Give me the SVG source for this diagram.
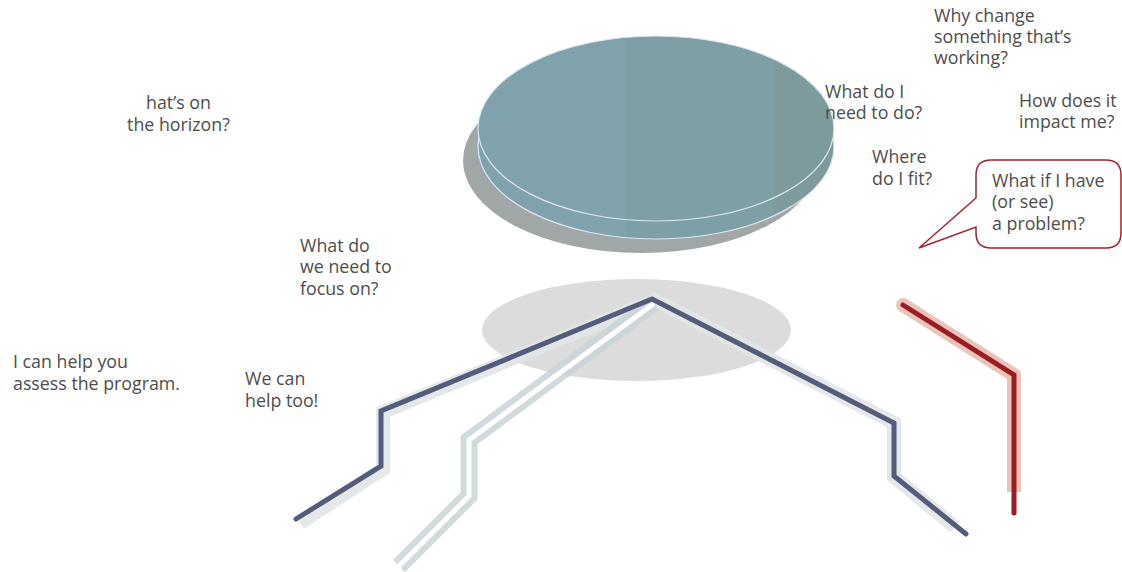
<svg xmlns="http://www.w3.org/2000/svg" width="1122" height="572" viewBox="0 0 1122 572">
<defs>
<linearGradient id="discFill" x1="477" y1="0" x2="835" y2="0" gradientUnits="userSpaceOnUse">
<stop offset="0" stop-color="#80a2ac"/>
<stop offset="0.415" stop-color="#80a2ac"/>
<stop offset="0.415" stop-color="#7f9fa6"/>
<stop offset="0.83" stop-color="#7f9fa6"/>
<stop offset="0.83" stop-color="#7d9b9d"/>
<stop offset="1" stop-color="#7d9b9d"/>
</linearGradient>
<style>
.t{font-family:"Open Sans","Noto Sans","Liberation Sans",sans-serif;font-size:17.8px;fill:#4d4d4d}
.disc{fill:url(#discFill);stroke:#dbe6f2;stroke-width:1.2}
.halo{fill:none;stroke:#e1e5e7;stroke-width:14;stroke-linejoin:miter;opacity:0.9}
.dark{fill:none;stroke:#555b7a;stroke-width:5;stroke-linecap:round;stroke-linejoin:miter}
</style>
</defs>
<rect width="1122" height="572" fill="#ffffff"/>

<g id="disc">
<ellipse cx="641" cy="160.5" rx="178" ry="92.5" fill="#a1a6a6"/>
<ellipse class="disc" cx="656" cy="146.5" rx="178" ry="92.5"/>
<ellipse class="disc" cx="656" cy="128.5" rx="178" ry="92.5"/>
</g>

<g id="ground">
<ellipse cx="636.5" cy="330" rx="154.5" ry="51" fill="#dcdcdc"/>
</g>

<g id="connectors">
<path class="halo" d="M300 523 L383 469 L383 412 L655 300 L894 423 L894 477 L955 527"/>
<path d="M399 566 L469 496 L469 440 L654 303" fill="none" stroke="#c9d3d7" stroke-width="17" stroke-linejoin="miter" opacity="0.85"/>
<path d="M399 566 L469 496 L469 440 L652 305" fill="none" stroke="#ffffff" stroke-width="5" stroke-linecap="round" stroke-linejoin="miter"/>
<path class="dark" d="M296 519 L381 466 L381 411 L652 299 L894 423 L894 476 L966 534"/>
<path d="M903 305 L1014 375 L1014 492" fill="none" stroke="#e9c5b9" stroke-width="14" stroke-linecap="butt" stroke-linejoin="round"/>
<circle cx="903" cy="305" r="7" fill="#e9c5b9"/>
<path d="M903 305 L1014 375 L1014 513" fill="none" stroke="#9c1c24" stroke-width="5" stroke-linecap="round" stroke-linejoin="miter"/>
</g>

<g id="bubble">
<path d="M991 160 H1106 Q1121 160 1121 175 V233 Q1121 248 1106 248 H991 Q976 248 976 233 V227 L919 248 L976 198 V175 Q976 160 991 160 Z" fill="#ffffff" stroke="#a3222c" stroke-width="1.5" stroke-linejoin="miter"/>
<text class="t" x="992" y="187">What if I have</text>
<text class="t" x="992" y="208">(or see)</text>
<text class="t" x="992" y="230">a problem?</text>
</g>

<g id="q-horizon">
<text class="t" x="178.5" y="109" text-anchor="middle">hat’s on</text>
<text class="t" x="178.5" y="131" text-anchor="middle">the horizon?</text>
</g>
<g id="q-focus">
<text class="t" x="300" y="252">What do</text>
<text class="t" x="300" y="273">we need to</text>
<text class="t" x="300" y="295">focus on?</text>
</g>
<g id="q-assess">
<text class="t" x="13" y="368">I can help you</text>
<text class="t" x="13" y="390">assess the program.</text>
</g>
<g id="q-wecan">
<text class="t" x="245" y="385">We can</text>
<text class="t" x="245" y="407">help too!</text>
</g>
<g id="q-why">
<text class="t" x="934" y="22">Why change</text>
<text class="t" x="934" y="43">something that’s</text>
<text class="t" x="934" y="64">working?</text>
</g>
<g id="q-needdo">
<text class="t" x="825" y="98">What do I</text>
<text class="t" x="825" y="119">need to do?</text>
</g>
<g id="q-impact">
<text class="t" x="1019" y="107">How does it</text>
<text class="t" x="1019" y="128">impact me?</text>
</g>
<g id="q-fit">
<text class="t" x="872" y="163">Where</text>
<text class="t" x="872" y="185">do I fit?</text>
</g>
</svg>
